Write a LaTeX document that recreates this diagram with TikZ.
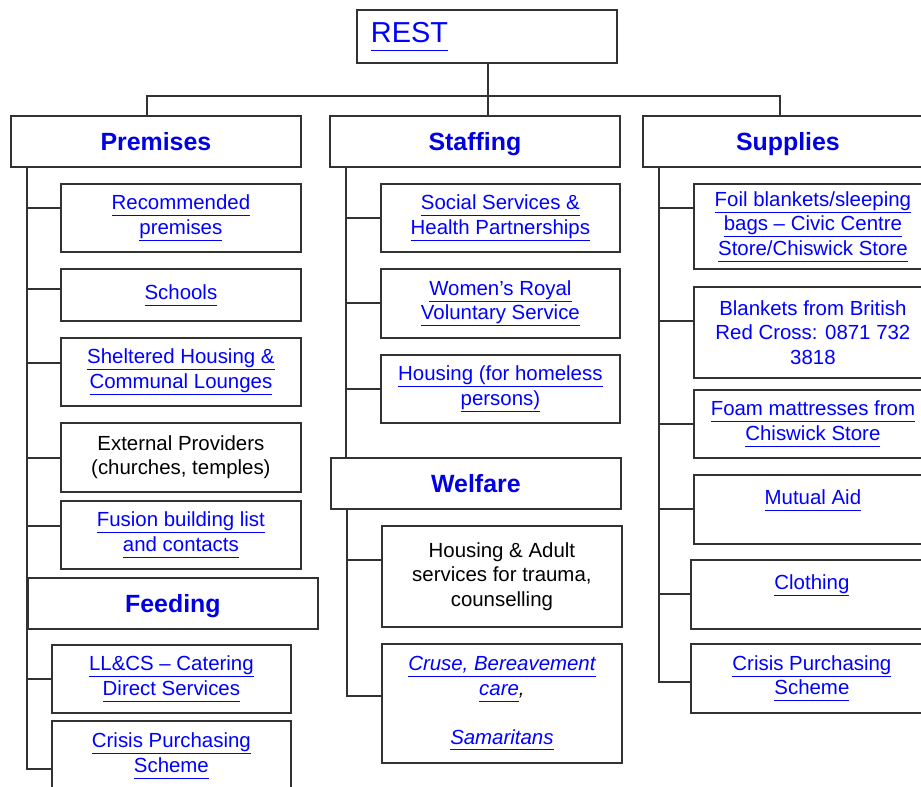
\documentclass[tikz,border=0pt]{standalone}
\usepackage{fontspec}
\setmainfont{Liberation Sans}
\usetikzlibrary{positioning}

\definecolor{linkblue}{RGB}{0,0,255}
\definecolor{headblue}{RGB}{0,0,225}
\definecolor{linegray}{RGB}{50,50,50}
\newcommand{\lnk}[1]{\underline{#1\vphantom{p}}}

\begin{document}
\begin{tikzpicture}[x=1bp,y=-1bp,line width=1.8bp,color=linegray,
	rest node/.style={rectangle,draw,anchor=north west,minimum width=260bp,minimum height=53bp,
		inner xsep=14bp,inner ysep=0bp,text width=232bp,align=left,text=linkblue,font=\fontsize{29}{34}\selectfont},
	head node/.style={rectangle,draw,anchor=north west,minimum width=290bp,minimum height=51bp,
		inner sep=0bp,text height=18bp,text depth=0bp,text=headblue,font=\fontsize{25}{30}\selectfont\bfseries},
	sub node/.style={rectangle,draw,anchor=north west,minimum width=240bp,inner sep=0bp,
		align=center,text=linkblue,font=\fontsize{20.5}{24.5}\selectfont},
	plain/.style={text=black}]

	\useasboundingbox (0,0) rectangle (921,787);
	\clip (0,0) rectangle (921,787);

	\node[rest node] (0) at (356,9) {\lnk{REST}};
	\node[head node] (1) at (10,115) {Premises};
	\node[head node] (2) at (329,115) {Staffing};
	\node[head node] (3) at (642,115) {Supplies};

	\node[sub node,minimum height=68bp] (4) at (60,183) {\lnk{Recommended}\\\lnk{premises}};
	\node[sub node,minimum height=52bp] (5) at (60,268) {\lnk{Schools}};
	\node[sub node,minimum height=68bp] (6) at (60,337) {\lnk{Sheltered Housing \&}\\\lnk{Communal Lounges}};
	\node[sub node,plain,minimum height=69bp] (7) at (60,422) {External Providers\\(churches, temples)};
	\node[sub node,minimum height=68bp] (8) at (60,500) {\lnk{Fusion building list}\\\lnk{and contacts}};
	\node[head node] (9) at (27,577) {Feeding};
	\node[sub node,minimum width=239bp,minimum height=68bp] (10) at (51,644) {\lnk{LL\&CS – Catering}\\\lnk{Direct Services}};
	\node[sub node,minimum width=239bp,minimum height=70bp] (11) at (51,720) {\lnk{Crisis Purchasing}\\\lnk{Scheme}};

	\node[sub node,minimum width=239bp,minimum height=68bp] (12) at (380,183) {\lnk{Social Services \&}\\\lnk{Health Partnerships}};
	\node[sub node,minimum width=239bp,minimum height=69bp] (13) at (380,268) {\lnk{Women's Royal}\\\lnk{Voluntary Service}};
	\node[sub node,minimum width=239bp,minimum height=68bp] (14) at (380,354) {\lnk{Housing (for homeless}\\\lnk{persons)}};
	\node[head node] (15) at (330,457) {Welfare};
	\node[sub node,plain,minimum height=101bp] (16) at (381,525) {Housing \& Adult\\services for trauma,\\counselling};
	\node[sub node,minimum height=119bp,font=\fontsize{20.5}{24.5}\selectfont\itshape] (17) at (381,643)
		{\lnk{Cruse, Bereavement}\\\lnk{care}\textcolor{black}{,}\\\mbox{}\\\lnk{Samaritans}};

	\node[sub node,minimum width=238bp,minimum height=85bp] (18) at (693,183) {\lnk{Foil blankets/sleeping}\\\lnk{bags – Civic Centre}\\\lnk{Store/Chiswick Store}};
	\node[sub node,minimum width=238bp,minimum height=91bp] (19) at (693,286) {Blankets from British\\Red Cross: 0871 732\\3818};
	\node[sub node,minimum width=238bp,minimum height=68bp] (20) at (693,389) {\lnk{Foam mattresses from}\\\lnk{Chiswick Store}};
	\node[sub node,minimum width=238bp,minimum height=69bp] (21) at (693,474) {\lnk{Mutual Aid}\\\mbox{}};
	\node[sub node,minimum width=242bp,minimum height=69bp] (22) at (690,559) {\lnk{Clothing}\\\mbox{}};
	\node[sub node,minimum width=242bp,minimum height=69bp] (23) at (690,643) {\lnk{Crisis Purchasing}\\\lnk{Scheme}};

	\coordinate (bus) at (488,96);
	\coordinate (p) at ([xshift=17bp]1.south west);
	\coordinate (s) at ([xshift=17bp]2.south west);
	\coordinate (u) at ([xshift=17bp]3.south west);
	\coordinate (w) at ([xshift=17bp]15.south west);

	\draw (bus |- 0.south) -- (bus);
	\draw (bus) -| ([xshift=-9bp]1.north);
	\draw (bus) -- (bus |- 2.north);
	\draw (bus) -| ([xshift=-8bp]3.north);

	\draw (p) |- ([yshift=10bp]4.west);
	\draw (p) |- ([yshift=6bp]5.west);
	\draw (p) |- ([yshift=9bp]6.west);
	\draw (p) |- ([yshift=-0.5bp]7.west);
	\draw (p) |- ([yshift=9bp]8.west);
	\draw (p) |- (10.west);
	\draw (p) |- ([yshift=-13bp]11.west);

	\draw (s) |- (12.west);
	\draw (s) |- ([yshift=0.5bp]13.west);
	\draw (s) |- (14.west);
	\draw (s) -- (s |- 15.north);

	\draw (w) |- ([yshift=16.5bp]16.west);
	\draw (w) |- ([yshift=7.5bp]17.west);

	\draw (u) |- ([yshift=18.5bp]18.west);
	\draw (u) |- ([yshift=11.5bp]19.west);
	\draw (u) |- (20.west);
	\draw (u) |- ([yshift=0.5bp]21.west);
	\draw (u) |- ([yshift=0.5bp]22.west);
	\draw (u) |- ([yshift=-3.5bp]23.west);
\end{tikzpicture}
\end{document}
